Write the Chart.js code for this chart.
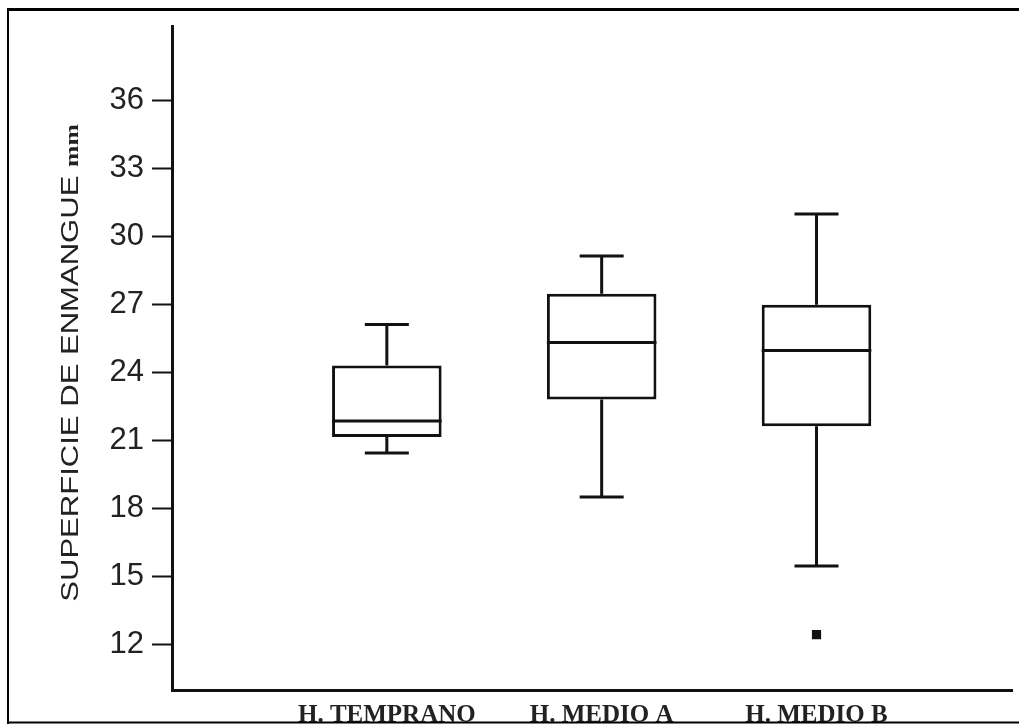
<!DOCTYPE html>
<html>
<head>
<meta charset="utf-8">
<script src="https://cdn.jsdelivr.net/npm/chart.js@4/dist/chart.umd.min.js"></script>
<style>
  html, body { margin: 0; padding: 0; background: #fff; }
  canvas { display: block; }
</style>
</head>
<body>
<canvas id="c" width="1019" height="725"></canvas>
<script>
// ---- data ----
const categories   = ['H. TEMPRANO', 'H. MEDIO A', 'H. MEDIO B'];
const positions    = [1, 2, 3];
const whiskerLow   = [20.45, 18.51, 15.47];
const q1           = [21.16, 22.81, 21.63];
const median       = [21.86, 25.32, 24.97];
const q3           = [24.31, 27.47, 26.99];
const whiskerHigh  = [26.11, 29.14, 30.99];
const outlierPos   = [3];
const outlierValue = [12.44];
const yTickValues  = [12, 15, 18, 21, 24, 27, 30, 33, 36];
const yTitle       = 'SUPERFICIE DE ENMANGUE';
const yTitleUnit   = 'mm';

const boxData = positions.map((p, i) => ({ x: p, y: [q1[i], q3[i]] }));
const outlierData = outlierPos.map((p, i) => ({ x: p, y: outlierValue[i] }));

const INK = '#111';

const boxPlugin = {
  id: 'boxExtras',
  afterDatasetsDraw(chart) {
    const ctx = chart.ctx;
    const xs = chart.scales.x, ys = chart.scales.y;
    const meta = chart.getDatasetMeta(0);
    ctx.save();
    ctx.strokeStyle = INK;
    ctx.lineWidth = 3;
    ctx.lineCap = 'butt';
    const capHalf = 22;
    positions.forEach((p, i) => {
      const x = xs.getPixelForValue(p);
      const el = meta.data[i];
      const half = el.width / 2;
      const yMed = ys.getPixelForValue(median[i]);
      const yQ1 = ys.getPixelForValue(q1[i]);
      const yQ3 = ys.getPixelForValue(q3[i]);
      const yLo = ys.getPixelForValue(whiskerLow[i]);
      const yHi = ys.getPixelForValue(whiskerHigh[i]);
      ctx.beginPath();
      ctx.moveTo(x - half, yMed); ctx.lineTo(x + half, yMed);
      ctx.moveTo(x, yQ3); ctx.lineTo(x, yHi);
      ctx.moveTo(x - capHalf, yHi); ctx.lineTo(x + capHalf, yHi);
      ctx.moveTo(x, yQ1); ctx.lineTo(x, yLo);
      ctx.moveTo(x - capHalf, yLo); ctx.lineTo(x + capHalf, yLo);
      ctx.stroke();
    });
    ctx.restore();
  },
  afterDraw(chart) {
    const ctx = chart.ctx;
    ctx.save();
    const stretch = 1.35;
    ctx.translate(72, 363);
    ctx.rotate(-Math.PI / 2);
    ctx.scale(stretch, 1);
    ctx.fillStyle = '#222';
    ctx.textBaseline = 'middle';
    ctx.font = '23px "Liberation Sans", Arial, sans-serif';
    const w1 = ctx.measureText(yTitle + ' ').width;
    ctx.font = 'bold 19px "Liberation Serif", "Times New Roman", serif';
    const w2 = ctx.measureText(yTitleUnit).width;
    const start = -(w1 + w2) / 2;
    ctx.font = '23px "Liberation Sans", Arial, sans-serif';
    ctx.textAlign = 'left';
    ctx.fillText(yTitle + ' ', start, 0);
    ctx.font = 'bold 19px "Liberation Serif", "Times New Roman", serif';
    ctx.fillText(yTitleUnit, start + w1, 1);
    ctx.restore();

    ctx.save();
    ctx.strokeStyle = '#000';
    ctx.lineWidth = 3;
    ctx.beginPath();
    ctx.moveTo(7, 9.5); ctx.lineTo(1019, 9.5);
    ctx.stroke();
    ctx.lineWidth = 2;
    ctx.beginPath();
    ctx.moveTo(8, 8); ctx.lineTo(8, 724);
    ctx.moveTo(7, 722.5); ctx.lineTo(1019, 722.5);
    ctx.stroke();
    ctx.restore();
  }
};

new Chart(document.getElementById('c'), {
  type: 'bar',
  data: {
    datasets: [
      {
        type: 'bar',
        label: 'box',
        data: boxData,
        backgroundColor: '#ffffff',
        borderColor: INK,
        borderWidth: 3,
        borderSkipped: false,
        categoryPercentage: 1,
        barPercentage: 0.51
      },
      {
        type: 'scatter',
        label: 'outlier',
        data: outlierData,
        pointStyle: 'rect',
        pointRadius: 6.5,
        backgroundColor: INK,
        borderWidth: 0
      }
    ]
  },
  options: {
    responsive: false,
    devicePixelRatio: 1,
    animation: false,
    events: [],
    layout: { padding: { left: 0, top: 25, right: 7, bottom: 0 } },
    plugins: { legend: { display: false }, tooltip: { enabled: false }, title: { display: false } },
    scales: {
      x: {
        type: 'linear',
        min: 0,
        max: 3.91,
        offset: false,
        afterBuildTicks(scale) { scale.ticks = positions.map(v => ({ value: v })); },
        afterFit(scale) { scale.height = 35; },
        grid: { display: true, drawOnChartArea: false, drawTicks: false, color: INK },
        border: { display: true, color: INK, width: 3 },
        ticks: {
          autoSkip: false,
          maxRotation: 0,
          padding: 11,
          color: '#222',
          font: { family: '"Liberation Serif", "Times New Roman", serif', size: 25, weight: 'bold' },
          callback: (v) => { const i = positions.indexOf(v); return i >= 0 ? categories[i] : ''; }
        }
      },
      y: {
        type: 'linear',
        min: 10,
        max: 39.25,
        afterBuildTicks(scale) { scale.ticks = yTickValues.map(v => ({ value: v })); },
        afterFit(scale) { scale.width = 172; },
        grid: { display: true, drawOnChartArea: false, drawTicks: true, tickLength: 20, tickWidth: 2, color: INK },
        border: { display: true, color: INK, width: 3 },
        ticks: {
          autoSkip: false,
          padding: 8,
          color: '#222',
          font: { family: '"Liberation Sans", Arial, sans-serif', size: 31 },
          callback: (v) => String(v)
        }
      }
    }
  },
  plugins: [boxPlugin]
});
</script>
</body>
</html>
